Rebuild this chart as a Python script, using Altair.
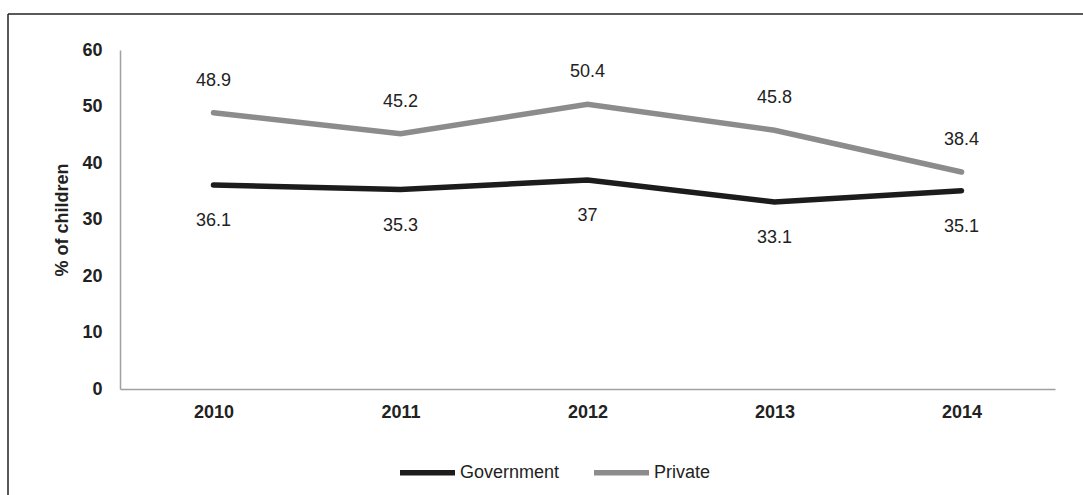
import altair as alt
import pandas as pd

years = ["2010", "2011", "2012", "2013", "2014"]
government = [36.1, 35.3, 37, 33.1, 35.1]
private = [48.9, 45.2, 50.4, 45.8, 38.4]
series_names = ["Government", "Private"]
series_colors = ["#1c1c1c", "#8c8c8c"]
y_ticks = [0, 10, 20, 30, 40, 50, 60]

rows = []
for y, g, p in zip(years, government, private):
    rows.append({"year": y, "series": "Government", "value": g, "label": f"{g:g}"})
    rows.append({"year": y, "series": "Private", "value": p, "label": f"{p:g}"})
df = pd.DataFrame(rows)

FONT = "Liberation Sans, Arial, sans-serif"

x_enc = alt.X("year:O", scale=alt.Scale(padding=0.5),
              axis=alt.Axis(title=None, labelAngle=0, labelFontWeight="bold",
                            labelFontSize=18, labelPadding=14, ticks=False,
                            domainColor="#a0a0a0", domainWidth=1.5,
                            labelColor="#222222", labelFont=FONT))
y_enc = alt.Y("value:Q", scale=alt.Scale(domain=[0, 60]),
              axis=alt.Axis(title="% of children", values=y_ticks, grid=False,
                            ticks=False, labelFontWeight="bold", labelFontSize=18,
                            labelPadding=18, domainColor="#a0a0a0", domainWidth=1.5,
                            labelColor="#222222", labelFont=FONT,
                            titleFont=FONT, titleFontSize=18, titleFontWeight="bold",
                            titleColor="#222222", titlePadding=10))

base = alt.Chart(df)

lines = base.mark_line(strokeWidth=5.5, strokeCap="round", strokeJoin="miter").encode(
    x=x_enc, y=y_enc,
    color=alt.Color("series:N",
                    scale=alt.Scale(domain=series_names, range=series_colors),
                    legend=alt.Legend(title=None, orient="none", direction="horizontal",
                                      legendX=277, legendY=392,
                                      symbolType="stroke", symbolSize=3025,
                                      symbolStrokeWidth=5.5, labelOffset=2,
                                      labelFontSize=18, labelFont=FONT,
                                      labelColor="#222222", columnPadding=23)),
)

text_priv = base.transform_filter(alt.datum.series == "Private").mark_text(
    dy=-32, fontSize=18, font=FONT, color="#222222").encode(
    x="year:O", y="value:Q", text="label:N")
text_gov = base.transform_filter(alt.datum.series == "Government").mark_text(
    dy=36, fontSize=18, font=FONT, color="#222222").encode(
    x="year:O", y="value:Q", text="label:N")

frame_df = pd.DataFrame({"a": [0]})
frame_left = alt.Chart(frame_df).mark_rule(color="#222222", strokeWidth=1.5).encode(
    x=alt.value(-112), y=alt.value(-36), y2=alt.value(450))
frame_top = alt.Chart(frame_df).mark_rule(color="#222222", strokeWidth=1.5).encode(
    x=alt.value(-112), x2=alt.value(970), y=alt.value(-36))

chart = alt.layer(lines, text_priv, text_gov, frame_left, frame_top).properties(
    width=935, height=339,
    autosize=alt.AutoSizeParams(type="none"),
    padding={"left": 120, "top": 50, "right": 28, "bottom": 106},
    background="white",
).configure_view(stroke=None)

chart.save("out.html", embed_options={"renderer": "svg", "actions": False})
